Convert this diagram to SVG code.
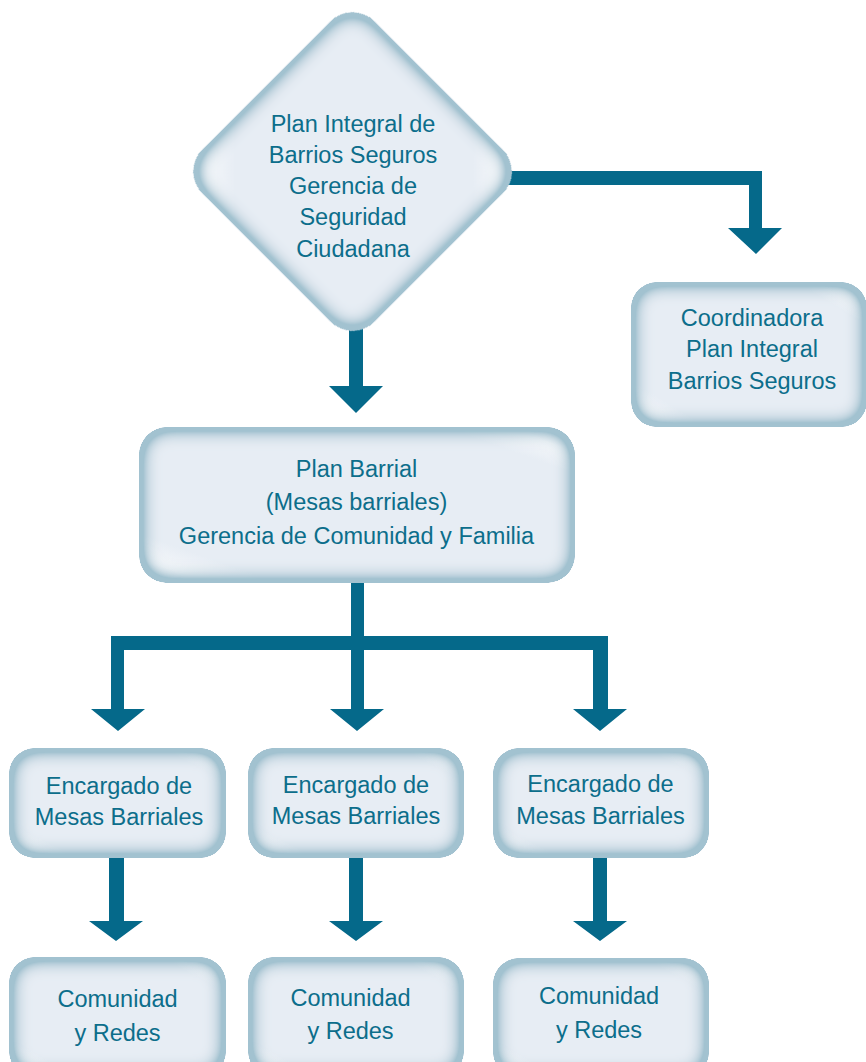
<svg xmlns="http://www.w3.org/2000/svg" width="866" height="1062" viewBox="0 0 866 1062">
<defs>
<filter id="inner" x="-10%" y="-10%" width="120%" height="120%">
<feGaussianBlur in="SourceAlpha" stdDeviation="10" result="b"/>
<feComposite in="SourceAlpha" in2="b" operator="arithmetic" k2="3" k3="-3" result="edge"/>
<feFlood flood-color="#a2c2d0" result="c"/>
<feComposite in="c" in2="edge" operator="in" result="sh"/>
<feMerge><feMergeNode in="SourceGraphic"/><feMergeNode in="sh"/></feMerge>
</filter>
<linearGradient id="gl" x1="0" y1="1" x2="1" y2="0">
<stop offset="0" stop-color="#dfe8f0"/>
<stop offset="0.08" stop-color="#f4f7fa"/>
<stop offset="0.16" stop-color="#e7edf4"/>
<stop offset="0.85" stop-color="#e7edf4"/>
<stop offset="0.92" stop-color="#f4f7fa"/>
<stop offset="1" stop-color="#dfe8f0"/>
</linearGradient>
</defs>
<style>
.box{fill:url(#gl);filter:url(#inner)}
.t{font-family:"Liberation Sans",Arial,sans-serif;font-size:23.5px;fill:#0c6e8b;text-anchor:middle}
.c{fill:#05698a}
</style>
<g id="connectors">
<polygon class="c" points="490,171 762,171 762,228 782,228 756,254 728,228 749,228 749,185 490,185"/>
<polygon class="c" points="349,300 363,300 363,386 383,386 356,413 329,386 349,386"/>
<polygon class="c" points="351,570 364,570 364,636 608,636 608,709 627,709 600,731 573,709 593,709 593,650 364,650 364,709 384,709 357,731 330,709 351,709 351,650 124,650 124,709 145,709 118,731 91,709 111,709 111,636 351,636"/>
<polygon class="c" points="109,850 124,850 124,921 143,921 116,941 89,921 109,921"/>
<polygon class="c" points="349,850 363,850 363,921 383,921 356,941 329,921 349,921"/>
<polygon class="c" points="593,850 607,850 607,921 627,921 600,941 573,921 593,921"/>
</g>
<g id="n-plan-integral">
<rect class="box" x="230.5" y="49.5" width="244" height="244" rx="32" transform="rotate(45 352.5 171.5)"/>
<text class="t" x="353" y="132">Plan Integral de</text>
<text class="t" x="353" y="163">Barrios Seguros</text>
<text class="t" x="353" y="194">Gerencia de</text>
<text class="t" x="353" y="225">Seguridad</text>
<text class="t" x="353" y="257">Ciudadana</text>
</g>
<g id="n-coordinadora">
<rect class="box" x="631" y="282" width="236" height="145" rx="26"/>
<text class="t" x="752" y="326">Coordinadora</text>
<text class="t" x="752" y="357">Plan Integral</text>
<text class="t" x="752" y="389">Barrios Seguros</text>
</g>
<g id="n-plan-barrial">
<rect class="box" x="139" y="427" width="436" height="156" rx="28"/>
<text class="t" x="356.5" y="477">Plan Barrial</text>
<text class="t" x="356.5" y="510">(Mesas barriales)</text>
<text class="t" x="356.5" y="544">Gerencia de Comunidad y Familia</text>
</g>
<g id="n-encargado-1">
<rect class="box" x="9" y="748" width="217" height="110" rx="26"/>
<text class="t" x="119" y="794">Encargado de</text>
<text class="t" x="119" y="825">Mesas Barriales</text>
</g>
<g id="n-encargado-2">
<rect class="box" x="248" y="748" width="216" height="110" rx="26"/>
<text class="t" x="356" y="793">Encargado de</text>
<text class="t" x="356" y="824">Mesas Barriales</text>
</g>
<g id="n-encargado-3">
<rect class="box" x="493" y="748" width="216" height="110" rx="26"/>
<text class="t" x="600.5" y="792">Encargado de</text>
<text class="t" x="600.5" y="824">Mesas Barriales</text>
</g>
<g id="n-comunidad-1">
<rect class="box" x="9" y="957" width="217" height="120" rx="26"/>
<text class="t" x="117.5" y="1007">Comunidad</text>
<text class="t" x="117.5" y="1041">y Redes</text>
</g>
<g id="n-comunidad-2">
<rect class="box" x="248" y="957" width="216" height="120" rx="26"/>
<text class="t" x="350.5" y="1006">Comunidad</text>
<text class="t" x="350.5" y="1039">y Redes</text>
</g>
<g id="n-comunidad-3">
<rect class="box" x="493" y="958" width="216" height="120" rx="26"/>
<text class="t" x="599" y="1004">Comunidad</text>
<text class="t" x="599" y="1038">y Redes</text>
</g>
</svg>
